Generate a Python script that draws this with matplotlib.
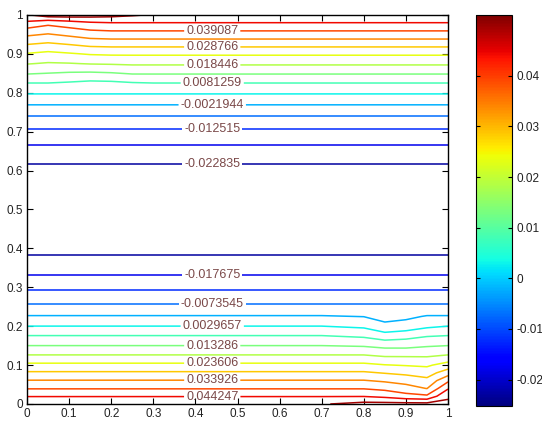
import numpy as np
import matplotlib
matplotlib.use('Agg')
import matplotlib.pyplot as plt
from matplotlib import cm, colors

plt.rcParams['font.family'] = ['Liberation Sans', 'DejaVu Sans']

# grid columns / rows of the sampled field
xs = [0, 0.05, 0.1, 0.15, 0.2, 0.25, 0.3, 0.5, 0.7, 0.8, 0.85, 0.9, 0.95, 1.0]
ys = [0, 0.02, 0.04, 0.06, 0.08, 0.1, 0.125, 0.15, 0.175, 0.2, 0.225, 0.25, 0.3, 0.35,
      0.4, 0.45, 0.5, 0.55, 0.6, 0.65, 0.7, 0.75, 0.8, 0.825, 0.85, 0.875, 0.9, 0.92,
      0.94, 0.96, 0.98, 1.0]

# value along y in the flat part of the field
z_profile = [0.0490, 0.0440, 0.0388, 0.0342, 0.0295, 0.0248, 0.0187, 0.0133, 0.0083,
             0.0030, -0.0018, -0.0063, -0.0137, -0.0200, -0.0242, -0.0250, -0.0252,
             -0.0250, -0.0245, -0.0196, -0.0137, -0.0057, 0.0035, 0.0081, 0.0137,
             0.0192, 0.0243, 0.0293, 0.0344, 0.0393, 0.0442, 0.0490]

# wiggles near the top-left corner (rows y=0.8..1, cols x=0..0.3)
top_left_dev = [
    [0, 0, 0, 0, 0, 0, 0],
    [0, 0, -0.0005, -0.0012, -0.001, -0.0003, 0],
    [0, -0.0005, -0.001, -0.0012, -0.0008, 0, 0],
    [-0.0005, -0.0012, -0.001, -0.0005, -0.0003, 0, 0],
    [-0.001, -0.002, -0.0012, -0.0003, 0, 0, 0],
    [-0.0015, -0.0025, -0.0015, -0.0003, 0, 0, 0],
    [-0.002, -0.003, -0.0018, -0.0004, 0, 0, 0],
    [-0.002, -0.0035, -0.002, -0.0005, 0, 0, 0],
    [-0.001, -0.0035, -0.002, -0.0005, 0, 0, 0],
    [0.0, 0.003, 0.003, 0.0025, 0.002, 0.001, 0],
]

# wiggles near the bottom-right corner (rows y=0..0.225, cols x=0.7..1)
bottom_right_dev = [
    [0, 0.002, 0.002, 0.002, 0.002, 0.001],
    [0, 0, -0.001, -0.003, -0.004, 0.005],
    [0, 0, -0.001, -0.003, -0.005, 0.005],
    [0, 0, -0.001, -0.002, -0.004, 0.004],
    [0, 0, -0.001, -0.002, -0.003, 0.002],
    [0, 0, -0.001, -0.0015, -0.002, 0.001],
    [0, 0, -0.001, -0.001, -0.001, 0],
    [0, -0.0005, -0.0015, -0.0015, -0.0005, 0],
    [0, -0.001, -0.003, -0.002, -0.0005, 0],
    [0, -0.001, -0.004, -0.003, -0.001, 0],
    [0, -0.0005, -0.002, -0.0015, 0, 0],
]

contour_levels = [-0.022835, -0.017675, -0.012515, -0.0073545, -0.0021944, 0.0029657,
                  0.0081259, 0.013286, 0.018446, 0.023606, 0.028766, 0.033926,
                  0.039087, 0.044247, 0.049407]
cbar_ticks = [-0.02, -0.01, 0, 0.01, 0.02, 0.03, 0.04]
axis_ticks = [0, 0.1, 0.2, 0.3, 0.4, 0.5, 0.6, 0.7, 0.8, 0.9, 1]

# build the field table
Z = np.tile(np.array(z_profile)[:, None], (1, len(xs)))
Z[-10:, :7] += np.array(top_left_dev)
Z[:11, -6:] += np.array(bottom_right_dev)
X, Y = np.meshgrid(xs, ys)

norm = colors.Normalize(vmin=Z.min(), vmax=Z.max())

fig = plt.figure(figsize=(5.42, 4.22), dpi=100)
ax = fig.add_axes([0.0498, 0.0427, 0.7768, 0.9218])
cs = ax.contour(X, Y, Z, levels=contour_levels, cmap='jet', norm=norm, linewidths=1.1)

# labels: even levels in the upper band, odd levels in the lower band, near x=0.44
label_x = 0.44
upper_lv = contour_levels[0:13:2]
lower_lv = contour_levels[1:14:2]
spots = []
for lv in upper_lv + lower_lv:
    verts = cs.get_paths()[contour_levels.index(lv)].vertices
    keep = verts[:, 1] > 0.5 if lv in upper_lv else verts[:, 1] < 0.5
    pts = verts[keep]
    i = np.argmin(np.abs(pts[:, 0] - label_x))
    spots.append((label_x, pts[i, 1]))
ax.clabel(cs, levels=upper_lv + lower_lv, manual=spots, fmt='%.5g', inline=True,
          inline_spacing=2, fontsize=9, colors='#7a4848')

ax.set_xlim(0, 1)
ax.set_ylim(0, 1)
ax.set_xticks(axis_ticks)
ax.set_yticks(axis_ticks)
ax.set_xticklabels(['%g' % t for t in axis_ticks])
ax.set_yticklabels(['%g' % t for t in axis_ticks])
ax.tick_params(direction='in', top=True, right=True, length=4, labelsize=8.5, pad=3,
               labelcolor='#222222')
for s in ax.spines.values():
    s.set_linewidth(1.0)

cax = fig.add_axes([0.878, 0.038, 0.066, 0.9265])
cb = fig.colorbar(cm.ScalarMappable(norm=norm, cmap='jet'), cax=cax, ticks=cbar_ticks)
cb.ax.set_yticklabels(['%g' % t for t in cbar_ticks])
cb.ax.tick_params(direction='in', left=True, right=True, length=3, labelsize=8.5,
                  labelcolor='#222222')
cb.outline.set_linewidth(0.8)

fig.savefig('out.png', dpi=100)
